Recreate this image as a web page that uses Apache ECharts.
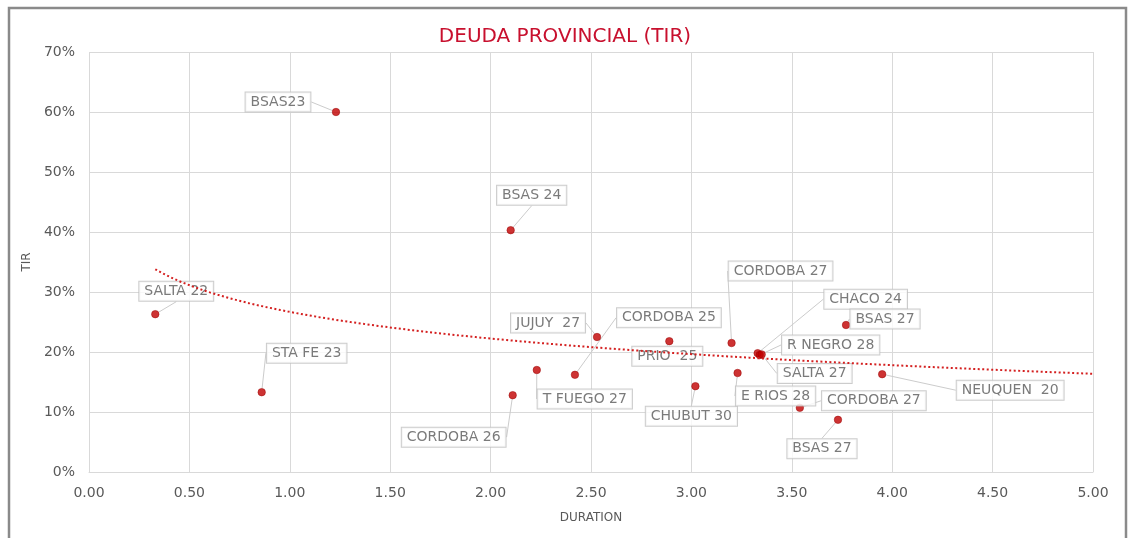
<!DOCTYPE html>
<html>
<head>
<meta charset="utf-8">
<script src="https://cdn.jsdelivr.net/npm/echarts@6/dist/echarts.min.js"></script>
<style>
html,body{margin:0;padding:0;background:#fff;}
#chart{width:1130px;height:538px;}
</style>
</head>
<body>
<div id="chart"></div>
<script>
// ---- data ----
var names = ['BSAS23','BSAS 24','SALTA 22','STA FE 23','CORDOBA 26','JUJUY  27','CORDOBA 25','T FUEGO 27','PRIO  25','CHUBUT 30','CORDOBA 27','CHACO 24','R NEGRO 28','SALTA 27','BSAS 27','E RIOS 28','CORDOBA 27','BSAS 27','NEUQUEN  20'];
var duration = [1.23, 2.10, 0.33, 0.86, 2.11, 2.53, 2.42, 2.23, 2.89, 3.02, 3.20, 3.33, 3.34, 3.35, 3.77, 3.23, 3.54, 3.73, 3.95];
var tir = [60.0, 40.3, 26.3, 13.3, 12.8, 22.5, 16.2, 17.0, 21.8, 14.3, 21.5, 19.8, 19.5, 19.6, 24.5, 16.5, 10.7, 8.7, 16.3];
var xTicks = { min: 0, max: 5, interval: 0.5 };
var yTicks = { min: 0, max: 70, interval: 10 };

// label callout offsets (pixels, from point to label centre) - layout only
var labelOffsets = [[-58,-10],[21,-35],[21,-23],[45,-39],[-59,42],[-49,-14],[94,-57],[48,29],[-2,15],[-4,30],[49,-72],[108,-54],[71,-10],[53,19],[39,-6],[38,23],[74,-7],[-16,29],[128,16]];

// logarithmic trendline (least squares on the data: y = a + b ln x)
function logFit(xs, ys) {
  var n = xs.length, sl = 0, sy = 0;
  for (var i = 0; i < n; i++) { sl += Math.log(xs[i]); sy += ys[i]; }
  var ml = sl / n, my = sy / n, sxy = 0, sxx = 0;
  for (var j = 0; j < n; j++) {
    var d = Math.log(xs[j]) - ml;
    sxy += d * (ys[j] - my); sxx += d * d;
  }
  var b = sxy / sxx;
  return { a: my - b * ml, b: b };
}
var fit = logFit(duration, tir);
var xStart = Math.min.apply(null, duration);
var trend = [];
for (var k = 0; k <= 120; k++) {
  var xv = xStart + (xTicks.max - xStart) * k / 120;
  trend.push([xv, fit.a + fit.b * Math.log(xv)]);
}

var points = duration.map(function (d, i) { return { name: names[i], value: [d, tir[i]] }; });

var FONT = 'DejaVu Sans';
var chart = echarts.init(document.getElementById('chart'), null, { renderer: 'canvas' });
chart.setOption({
  animation: false,
  backgroundColor: '#ffffff',
  title: {
    text: 'DEUDA PROVINCIAL (TIR)',
    left: 'center',
    top: 22,
    textStyle: { color: '#c8102e', fontSize: 20, fontWeight: 'normal', fontFamily: FONT }
  },
  graphic: [{
    type: 'rect', silent: true, z: 100,
    shape: { x: 9, y: 8, width: 1117, height: 545 },
    style: { fill: 'none', stroke: '#8a8a8a', lineWidth: 2.5 }
  }],
  grid: { left: 89, right: 37, top: 52, bottom: 66 },
  xAxis: {
    type: 'value', min: xTicks.min, max: xTicks.max, interval: xTicks.interval,
    name: 'DURATION', nameLocation: 'middle', nameGap: 40,
    nameTextStyle: { color: '#595959', fontSize: 12, fontFamily: FONT },
    axisLine: { show: true, lineStyle: { color: '#d9d9d9' } },
    axisTick: { show: false },
    axisLabel: { color: '#595959', fontSize: 14, fontFamily: FONT, margin: 14,
      formatter: function (v) { return v.toFixed(2); } },
    splitLine: { show: true, lineStyle: { color: '#d9d9d9' } }
  },
  yAxis: {
    type: 'value', min: yTicks.min, max: yTicks.max, interval: yTicks.interval,
    name: 'TIR', nameLocation: 'middle', nameGap: 54, nameRotate: 90,
    nameTextStyle: { color: '#595959', fontSize: 12, fontFamily: FONT },
    axisLine: { show: false },
    axisTick: { show: false },
    axisLabel: { color: '#595959', fontSize: 14, fontFamily: FONT, margin: 14,
      formatter: '{value}%' },
    splitLine: { show: true, lineStyle: { color: '#d9d9d9' } }
  },
  series: [
    {
      type: 'scatter', z: 2,
      data: points,
      symbolSize: 7.5,
      itemStyle: { color: '#c00000', borderColor: '#9a0000', borderWidth: 0.6 },
      label: {
        show: true, position: 'inside',
        formatter: '{b}',
        color: '#595959', fontSize: 14, fontFamily: FONT,
        backgroundColor: '#ffffff', borderColor: '#bfbfbf', borderWidth: 1,
        padding: [3, 5, 2, 5]
      },
      labelLine: { show: true, length2: 0, lineStyle: { color: '#cccccc', width: 1 } },
      labelLayout: function (p) {
        var o = labelOffsets[p.dataIndex];
        return { dx: o[0], dy: o[1] };
      },
      emphasis: { disabled: true }
    },
    {
      type: 'line', z: 5,
      data: trend,
      showSymbol: false, symbol: 'none', smooth: false, silent: true,
      lineStyle: { color: '#d42020', width: 2, type: [2, 2.5], cap: 'butt' }
    }
  ]
});
</script>
</body>
</html>
